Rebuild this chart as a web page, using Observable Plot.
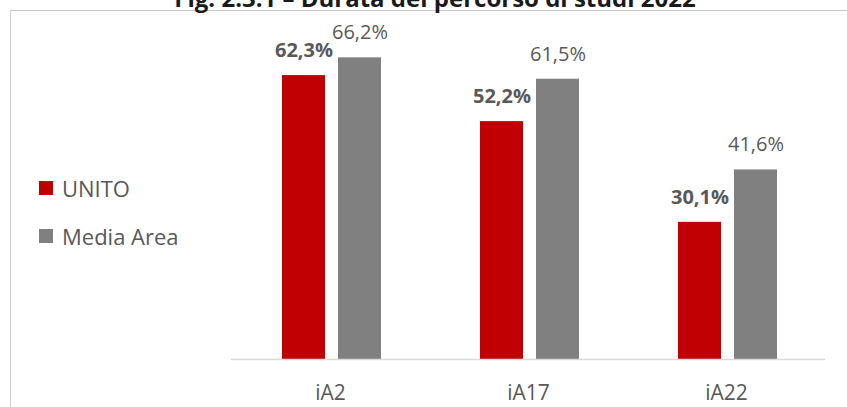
<!DOCTYPE html>
<html>
<head>
<meta charset="utf-8">
<script src="https://cdn.jsdelivr.net/npm/d3@7"></script>
<script src="https://cdn.jsdelivr.net/npm/@observablehq/plot@0.6"></script>
<style>
  html, body { margin: 0; padding: 0; background: #fff; }
  #wrap { position: relative; width: 847px; height: 407px; overflow: hidden; font-family: "Open Sans", sans-serif; }
  #frame { position: absolute; left: 10px; top: 10px; width: 900px; height: 500px; border-left: 1px solid #d0d0d0; border-top: 1px solid #c8c8c8; box-sizing: border-box; }
  #title { position: absolute; left: 0; width: 870px; top: -17px; line-height: 30px; text-align: center; font-weight: bold; font-size: 24px; color: #1a1a1a; white-space: nowrap; }
  #chart { position: absolute; left: 0; top: 0; }
  #legend { position: absolute; left: 39px; top: 172px; color: #595959; font-size: 22px; }
  .item { display: flex; align-items: center; height: 32px; margin-bottom: 16px; }
  .sw { width: 14px; height: 14px; margin-right: 9px; }
</style>
</head>
<body>
<div id="wrap">
  <div id="frame"></div>
  <div id="title">Fig. 2.3.1 – Durata del percorso di studi 2022</div>
  <div id="chart"></div>
  <div id="legend"></div>
</div>
<script>
const categories = ["iA2", "iA17", "iA22"];
const seriesNames = ["UNITO", "Media Area"];
const unitoValues = [62.3, 52.2, 30.1];
const areaValues = [66.2, 61.5, 41.6];
const seriesColors = ["#C00000", "#808080"];

const data = [];
categories.forEach((c, i) => {
  data.push({cat: c, series: seriesNames[0], value: unitoValues[i]});
  data.push({cat: c, series: seriesNames[1], value: areaValues[i]});
});

const it = d3.formatLocale({decimal: ",", thousands: ".", grouping: [3], currency: ["", "€"]});
const fmt = v => it.format(".1f")(v) + "%";

const chart = Plot.plot({
  width: 847,
  height: 407,
  marginLeft: 231,
  marginRight: 22,
  marginTop: 40,
  marginBottom: 48,
  style: {fontFamily: "Open Sans, sans-serif", background: "transparent", overflow: "visible"},
  fx: {domain: categories, padding: 0, label: null},
  x: {domain: seriesNames, paddingInner: 0.228, paddingOuter: 0.851, align: 0.52, axis: null},
  y: {domain: [0, 70], axis: null},
  color: {domain: seriesNames, range: seriesColors},
  marks: [
    Plot.barY(data, {fx: "cat", x: "series", y: "value", fill: "series"}),
    Plot.ruleY([0], {stroke: "#d9d9d9", strokeWidth: 1.5}),
    Plot.text(data.filter(d => d.series === seriesNames[0]), {
      fx: "cat", x: "series", y: "value", text: d => fmt(d.value),
      dy: -25, fontSize: 20, fontWeight: "bold", fill: "#595959"
    }),
    Plot.text(data.filter(d => d.series === seriesNames[1]), {
      fx: "cat", x: "series", y: "value", text: d => fmt(d.value),
      dy: -25, fontSize: 20, fill: "#595959"
    }),
    Plot.axisFx({anchor: "bottom", tickSize: 0, tickPadding: 26, fontSize: 21, color: "#595959", label: null})
  ]
});
document.getElementById("chart").appendChild(chart);

const legend = document.getElementById("legend");
seriesNames.forEach((s, i) => {
  const row = document.createElement("div");
  row.className = "item";
  const sw = document.createElement("span");
  sw.className = "sw";
  sw.style.background = seriesColors[i];
  const t = document.createElement("span");
  t.textContent = s;
  row.appendChild(sw);
  row.appendChild(t);
  legend.appendChild(row);
});
</script>
</body>
</html>
